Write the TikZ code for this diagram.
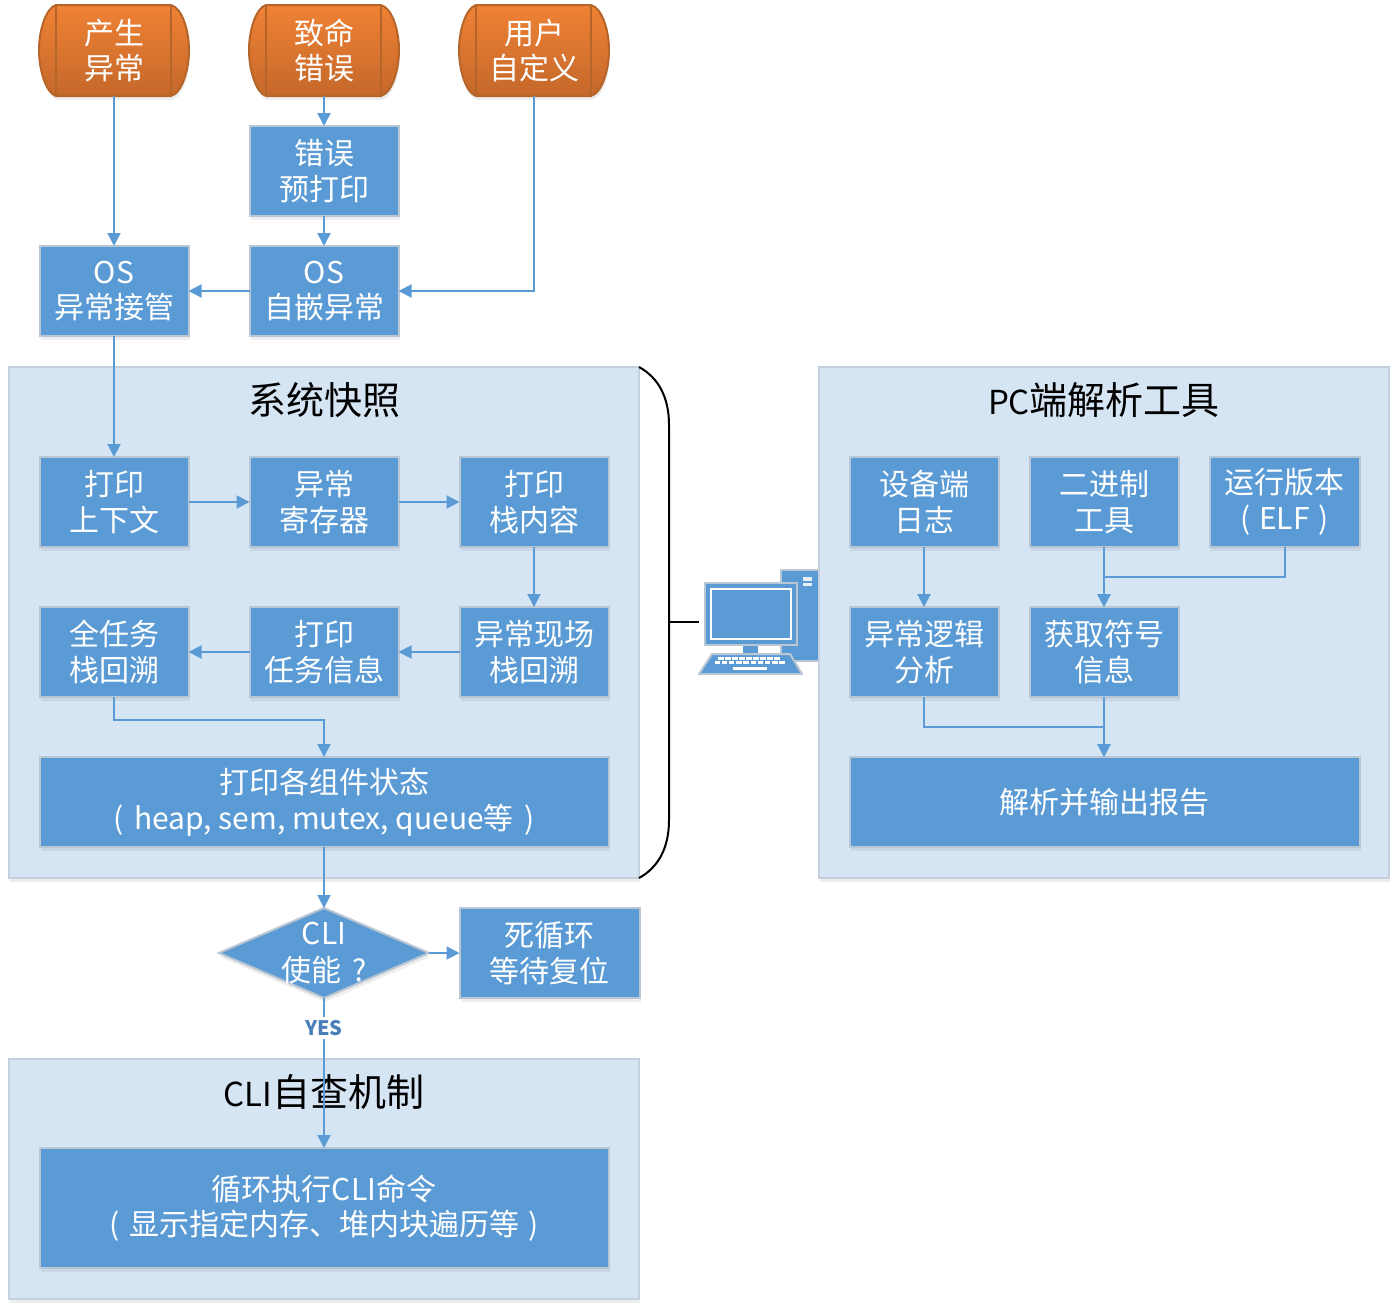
\documentclass[tikz,border=0pt]{standalone}
\usepackage{fontspec}
\setmainfont{Noto Sans CJK SC}
\usetikzlibrary{arrows.meta,shapes.geometric,shadows}
\definecolor{bfill}{HTML}{5B9BD5}
\definecolor{bedge}{HTML}{B9C6D3}
\definecolor{pfill}{HTML}{D6E5F4}
\definecolor{pedge}{HTML}{C6D0DC}
\definecolor{oedge}{HTML}{B5652A}
\definecolor{otop}{HTML}{EF8235}
\definecolor{obot}{HTML}{C4682A}
\definecolor{yes}{HTML}{4A7EB8}
\tikzset{
  x=1pt,y=-1pt,
  softshadow/.style={drop shadow={shadow xshift=1pt,shadow yshift=-4pt,opacity=.14,fill=black!50}},
  panel/.style={draw=pedge,line width=2pt,fill=pfill,anchor=north west,inner sep=0pt,outer sep=0pt,softshadow},
  boxsize/.style 2 args={minimum width=#1pt,minimum height=#2pt},
  bluebox/.style={draw=bedge,line width=2pt,fill=bfill,text=white,anchor=north west,xshift=.5pt,inner sep=0pt,outer sep=0pt,align=center,softshadow,font=\fontsize{30}{35.5}\selectfont},
  capsule/.style={text=white,anchor=north west,inner sep=0pt,outer sep=0pt,align=center,minimum width=150pt,minimum height=91pt,font=\fontsize{30}{35.5}\selectfont},
  capfill/.style={draw=oedge,line width=2pt,top color=otop,bottom color=obot,softshadow},
  capline/.style={draw=oedge,line width=2pt},
  flow/.style={draw=bfill,line width=2pt,-{Triangle[length=13pt,width=13pt]}},
  paneltitle/.style={font=\fontsize{38}{42}\selectfont,text=black,inner sep=0pt},
  monitor/.style={draw=bedge,line width=2pt,fill=bfill},
  keydot/.style={fill=white,draw=none},
  yeslabel/.style={font=\bfseries\fontsize{20}{24}\selectfont,text=yes,fill=white,inner sep=3pt},
}
\newcommand{\capsuleshape}[1]{%
  \path[capfill] (#1+17,5) -- (#1+132,5) .. controls (#1+143,8) and (#1+150,30) .. (#1+150,50)
    .. controls (#1+150,70) and (#1+143,93) .. (#1+132,96) -- (#1+17,96)
    .. controls (#1+7,93) and (#1+0,70) .. (#1+0,50) .. controls (#1+0,30) and (#1+7,8) .. (#1+17,5) -- cycle;
  \draw[capline] (#1+17,5) -- (#1+17,96);
  \draw[capline] (#1+132,5) -- (#1+132,96);
}
\newcommand{\gapp}{\hspace{.36em}}
\newcommand{\gappb}{\hspace{.3em}}
\newcommand{\latintitle}[1]{{\fontsize{33}{42}\selectfont #1}}
\begin{document}
\begin{tikzpicture}
\useasboundingbox (0,0) rectangle (1400,1312);
% panels
\node[panel,minimum width=630pt,minimum height=511pt] (snap) at (9,367) {};
\node[panel,minimum width=570pt,minimum height=511pt] (pc) at (819,367) {};
\node[panel,minimum width=630pt,minimum height=240pt] (cli) at (9,1059) {};
\node[paneltitle] (snaptitle) at (324,400) {系统快照};
\node[paneltitle] (pctitle) at (1104,400) {\latintitle{PC}端解析工具};
\node[paneltitle] (clititle) at (324,1092) {\latintitle{CLI}自查机制};
% capsules
\capsuleshape{39}\capsuleshape{249}\capsuleshape{459}
\node[capsule] (c1) at (39,5) {产生\\异常};
\node[capsule] (c2) at (249,5) {致命\\错误};
\node[capsule] (c3) at (459,5) {用户\\自定义};
% top boxes
\node[bluebox,boxsize={149}{90}] (pre) at (249,126) {错误\\预打印};
\node[bluebox,boxsize={149}{90}] (osa) at (39,246) {OS\\异常接管};
\node[bluebox,boxsize={149}{90}] (osb) at (249,246) {OS\\自嵌异常};
% snapshot boxes
\node[bluebox,boxsize={149}{90}] (s1) at (39,457) {打印\\上下文};
\node[bluebox,boxsize={149}{90}] (s2) at (249,457) {异常\\寄存器};
\node[bluebox,boxsize={149}{90}] (s3) at (459,457) {打印\\栈内容};
\node[bluebox,boxsize={149}{90}] (s4) at (459,607) {异常现场\\栈回溯};
\node[bluebox,boxsize={149}{90}] (s5) at (249,607) {打印\\任务信息};
\node[bluebox,boxsize={149}{90}] (s6) at (39,607) {全任务\\栈回溯};
\node[bluebox,boxsize={569}{90}] (s7) at (39,757) {打印各组件状态\\(\gapp heap, sem, mutex, queue等\gapp)};
% decision
\node[diamond,draw=bedge,line width=2pt,fill=bfill,inner sep=0pt,outer sep=0pt,minimum width=210pt,minimum height=90pt,softshadow,
  label={[text=white,align=center,font=\fontsize{30}{37}\selectfont]center:CLI\\使能\gapp ?}] (dec) at (324,953) {};
\node[bluebox,boxsize={180}{90}] (dead) at (459,908) {死循环\\等待复位};
\node[bluebox,boxsize={569}{120}] (loop) at (39,1148) {循环执行CLI命令\\(\gappb 显示指定内存、堆内块遍历等\gappb)};
% pc boxes
\node[bluebox,boxsize={149}{90}] (p1) at (849,457) {设备端\\日志};
\node[bluebox,boxsize={149}{90}] (p2) at (1029,457) {二进制\\工具};
\node[bluebox,boxsize={150}{90}] (p3) at (1209,457) {运行版本\\(\gappb ELF\gappb)};
\node[bluebox,boxsize={149}{90}] (p4) at (849,607) {异常逻辑\\分析};
\node[bluebox,boxsize={149}{90}] (p5) at (1029,607) {获取符号\\信息};
\node[bluebox,boxsize={510}{90}] (p6) at (849,757) {解析并输出报告};
% connectors
\draw[flow] (c1.south -| osa.north) -- (osa.north);
\draw[flow] (c2.south) -- (pre.north);
\draw[flow] (pre.south) -- (osb.north);
\draw[flow] (c3.south) |- (osb.east);
\draw[flow] (osb.west) -- (osa.east);
\draw[flow] (osa.south) -- (s1.north);
\draw[flow] (s1.east) -- (s2.west);
\draw[flow] (s2.east) -- (s3.west);
\draw[flow] (s3.south) -- (s4.north);
\draw[flow] (s4.west) -- (s5.east);
\draw[flow] (s5.west) -- (s6.east);
\draw[flow] (s6.south) -- ++(0,23) -| (s7.north);
\draw[flow] (s7.south) -- (dec.north);
\draw[flow] (dec.east) -- (dead.west);
\draw[flow] (dec.south) -- node[pos=.2,yeslabel] (yeslbl) {YES} (loop.north);
\draw[flow] (p1.south) -- (p4.north);
\draw[flow] (p2.south) -- (p5.north);
\draw[flow] (p3.south) -- ++(0,30) -| (p5.north);
\draw[flow] (p4.south) -- ++(0,30) -| (p5.south |- p6.north);
\draw[flow] (p5.south) -- (p5.south |- p6.north);
% computer
\coordinate (bracetop) at (639,367);
\coordinate (bracebot) at (639,878);
\coordinate (bracemid) at (669,622);
\coordinate (pcend) at (699,622);
\draw[black,line width=2pt] (bracetop) .. controls (659,378) and (669,398) .. (669,425) -- (669,820)
  .. controls (669,847) and (659,867) .. (bracebot);
\draw[black,line width=2pt] (bracemid) -- (pcend);
\fill[bedge] (780,569) rectangle (818,662);
\fill[bfill] (782,571) rectangle (818,660);
\fill[white!85!bfill] (803,577) rectangle (812,580.5);
\fill[white!85!bfill] (803,582.5) rectangle (812,586);
\fill[bfill] (743,645) rectangle (758,655);
\draw[monitor,fill=bfill,line join=round] (712,654) -- (790,654) -- (802,674) -- (699,674) -- cycle;
\draw[monitor] (705,583) rectangle (797,645);
\draw[white,line width=2pt,fill=bfill] (711,589) rectangle (791,639);
\foreach \i in {0,...,8} \fill[keydot] (718+\i*7,656.5) rectangle ++(5.5,3);
\foreach \i in {0,...,9} \fill[keydot] (714.5+\i*7.2,661) rectangle ++(5.5,3);
\fill[keydot] (733,667) rectangle (767,669.5);
\end{tikzpicture}
\end{document}
